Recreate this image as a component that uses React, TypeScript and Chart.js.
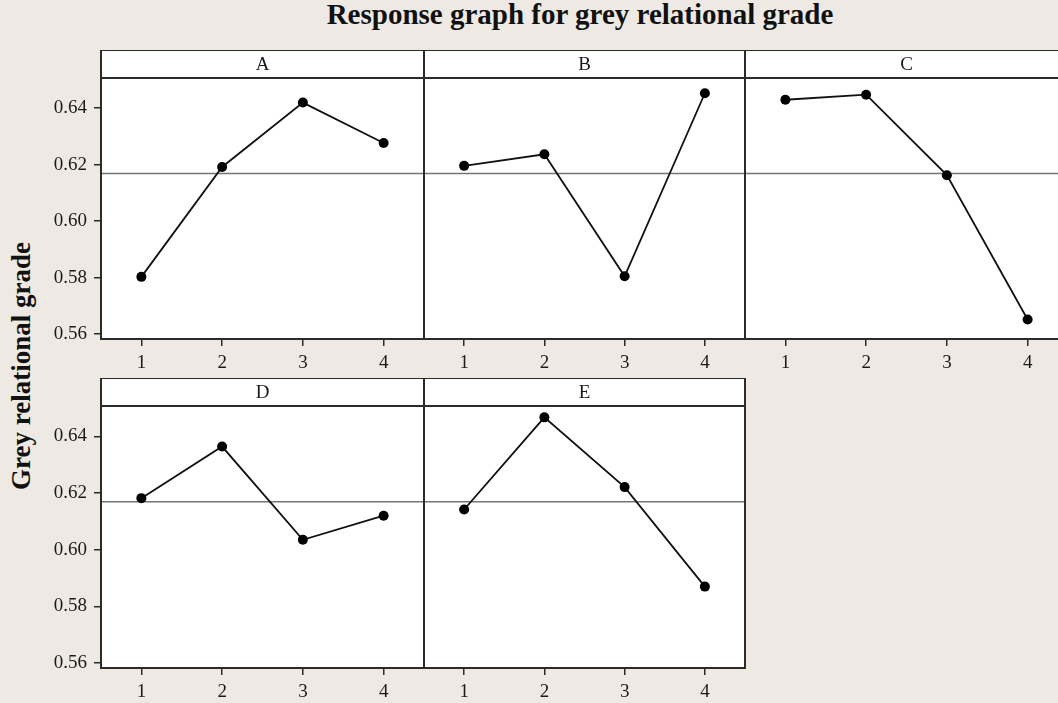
import React, { useEffect, useRef } from "react";
import { Chart, registerables } from "chart.js";

Chart.register(...registerables);

// ---- data ----
const levels = [1, 2, 3, 4];
const valuesA = [0.5803, 0.6192, 0.642, 0.6277];
const valuesB = [0.6196, 0.6237, 0.5805, 0.6453];
const valuesC = [0.643, 0.6448, 0.6163, 0.5652];
const valuesD = [0.6182, 0.6364, 0.6035, 0.612];
const valuesE = [0.6142, 0.6467, 0.6221, 0.587];
const meanGrade = 0.6169;
const yTicks = [0.56, 0.58, 0.6, 0.62, 0.64];
const xTicks = [1, 2, 3, 4];
const yMin = 0.5583;
const yMax = 0.6507;
const xMin = 0.5;
const xMax = 4.5;
const titleText = "Response graph for grey relational grade";
const yAxisTitle = "Grey relational grade";

const BG = "#EEEAE3";
const FONT = "'Liberation Serif', 'Times New Roman', serif";
const HEADER_H = 28;
const X_AXIS_H = 45;
const Y_AXIS_W = 70;

const framePlugin = {
  id: "panelFrame",
  beforeDraw(chart: any, _args: any, opts: any) {
    const { ctx, chartArea: a } = chart;
    ctx.save();
    ctx.fillStyle = "#ffffff";
    ctx.fillRect(a.left, a.top - opts.headerH, a.right - a.left, a.bottom - a.top + opts.headerH);
    ctx.restore();
  },
  afterDraw(chart: any, _args: any, opts: any) {
    const { ctx, chartArea: a } = chart;
    ctx.save();
    ctx.strokeStyle = "#2b2b2b";
    ctx.lineWidth = 2;
    ctx.strokeRect(a.left, a.top - opts.headerH, a.right - a.left, a.bottom - a.top + opts.headerH);
    ctx.beginPath();
    ctx.moveTo(a.left, a.top);
    ctx.lineTo(a.right, a.top);
    ctx.stroke();
    ctx.fillStyle = "#1a1a1a";
    ctx.font = `19px ${FONT}`;
    ctx.textAlign = "center";
    ctx.textBaseline = "middle";
    ctx.fillText(opts.label, (a.left + a.right) / 2, a.top - opts.headerH / 2 + 1);
    ctx.restore();
  },
};

type PanelProps = {
  name: string;
  values: number[];
  left: number;
  right: number;
  top: number;
  bottom: number;
  showY: boolean;
};

function Panel({ name, values, left, right, top, bottom, showY }: PanelProps) {
  const ref = useRef<HTMLCanvasElement>(null);
  const yW = showY ? Y_AXIS_W : 0;
  const width = right - left + yW + 2;
  const height = bottom - top + X_AXIS_H;

  useEffect(() => {
    if (!ref.current) return;
    const tickFont = { family: FONT, size: 19 };
    const chart = new Chart(ref.current, {
      type: "line",
      data: {
        datasets: [
          {
            data: levels.map((x, i) => ({ x, y: values[i] })),
            borderColor: "#111111",
            backgroundColor: "#000000",
            pointBackgroundColor: "#000000",
            pointBorderColor: "#000000",
            borderWidth: 1.8,
            pointRadius: 5,
            pointHoverRadius: 5,
            pointBorderWidth: 0,
            order: 0,
          },
          {
            data: [
              { x: xMin, y: meanGrade },
              { x: xMax, y: meanGrade },
            ],
            borderColor: "#767676",
            borderWidth: 1.5,
            pointRadius: 0,
            pointHoverRadius: 0,
            order: 1,
          },
        ],
      },
      options: {
        animation: false,
        responsive: false,
        maintainAspectRatio: false,
        devicePixelRatio: 1,
        events: [],
        layout: { autoPadding: false, padding: { top: HEADER_H, right: 2, left: 0, bottom: 0 } },
        plugins: {
          legend: { display: false },
          tooltip: { enabled: false },
          title: { display: false },
          // @ts-ignore
          panelFrame: { label: name, headerH: HEADER_H },
        },
        scales: {
          x: {
            type: "linear",
            min: xMin,
            max: xMax,
            afterBuildTicks: (s: any) => {
              s.ticks = xTicks.map((v) => ({ value: v }));
            },
            afterFit: (s: any) => {
              s.height = X_AXIS_H;
              s.paddingLeft = 0;
              s.paddingRight = 0;
              s.paddingTop = 0;
              s.paddingBottom = 0;
            },
            border: { display: false },
            grid: {
              drawOnChartArea: false,
              drawTicks: true,
              tickLength: 7,
              color: "#2b2b2b",
              lineWidth: 1.5,
            },
            ticks: {
              font: tickFont,
              color: "#1a1a1a",
              padding: 6,
              maxRotation: 0,
              autoSkip: false,
              callback: (v: any) => String(v),
            },
          },
          y: {
            type: "linear",
            display: showY,
            min: yMin,
            max: yMax,
            afterBuildTicks: (s: any) => {
              s.ticks = yTicks.map((v) => ({ value: v }));
            },
            afterFit: (s: any) => {
              s.width = yW;
              s.paddingLeft = 0;
              s.paddingRight = 0;
              s.paddingTop = 0;
              s.paddingBottom = 0;
            },
            border: { display: false },
            grid: {
              drawOnChartArea: false,
              drawTicks: true,
              tickLength: 7,
              color: "#2b2b2b",
              lineWidth: 1.5,
            },
            ticks: {
              font: tickFont,
              color: "#1a1a1a",
              padding: 7,
              autoSkip: false,
              callback: (v: any) => Number(v).toFixed(2),
            },
          },
        },
      },
      plugins: [framePlugin as any],
    });
    return () => chart.destroy();
  }, []);

  return (
    <canvas
      ref={ref}
      width={width}
      height={height}
      style={{
        position: "absolute",
        left: left - yW,
        top,
        width,
        height,
        display: "block",
      }}
    />
  );
}

const panels: PanelProps[] = [
  { name: "A", values: valuesA, left: 101, right: 424, top: 50, bottom: 339, showY: true },
  { name: "B", values: valuesB, left: 424, right: 745, top: 50, bottom: 339, showY: false },
  { name: "C", values: valuesC, left: 745, right: 1068, top: 50, bottom: 339, showY: false },
  { name: "D", values: valuesD, left: 101, right: 424, top: 378, bottom: 668, showY: true },
  { name: "E", values: valuesE, left: 424, right: 745, top: 378, bottom: 668, showY: false },
];

export default function App() {
  return (
    <div
      style={{
        position: "fixed",
        left: 0,
        top: 0,
        width: 1058,
        height: 703,
        overflow: "hidden",
        background: BG,
        fontFamily: FONT,
      }}
    >
      <div
        style={{
          position: "absolute",
          left: 580,
          top: -3,
          transform: "translateX(-50%)",
          fontSize: 29,
          lineHeight: "34px",
          fontWeight: "bold",
          whiteSpace: "nowrap",
          color: "#111",
        }}
      >
        {titleText}
      </div>
      <div
        style={{
          position: "absolute",
          left: 21,
          top: 366,
          transform: "translate(-50%, -50%) rotate(-90deg)",
          fontSize: 27,
          lineHeight: "30px",
          fontWeight: "bold",
          whiteSpace: "nowrap",
          color: "#111",
        }}
      >
        {yAxisTitle}
      </div>
      {panels.map((p) => (
        <Panel key={p.name} {...p} />
      ))}
    </div>
  );
}
